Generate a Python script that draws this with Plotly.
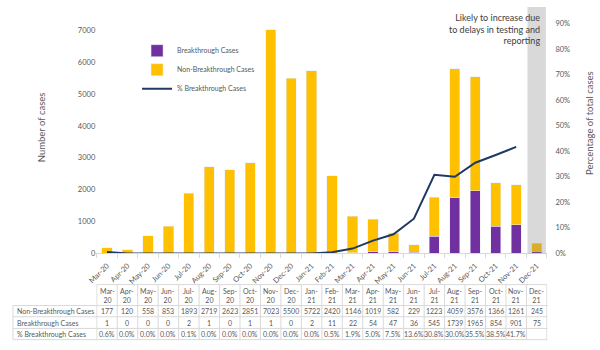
import plotly.graph_objects as go

months = ["Mar-20","Apr-20","May-20","Jun-20","Jul-20","Aug-20","Sep-20","Oct-20","Nov-20","Dec-20",
          "Jan-21","Feb-21","Mar-21","Apr-21","May-21","Jun-21","Jul-21","Aug-21","Sep-21","Oct-21","Nov-21","Dec-21"]
non_breakthrough = [177,120,558,853,1893,2719,2623,2851,7023,5500,5722,2420,1146,1019,582,229,1223,4059,3576,1366,1261,245]
breakthrough = [1,0,0,0,2,1,0,1,1,0,2,11,22,54,47,36,545,1739,1965,854,901,75]
pct_breakthrough = [0.6,0.0,0.0,0.0,0.1,0.0,0.0,0.0,0.0,0.0,0.0,0.5,1.9,5.0,7.5,13.6,30.8,30.0,35.5,38.5,41.7,None]
row_labels = ["Non-Breakthrough Cases", "Breakthrough Cases", "% Breakthrough Cases"]
left_ticks = [0,1000,2000,3000,4000,5000,6000,7000]
right_ticks = [0,10,20,30,40,50,60,70,80,90]

W, H = 600, 350
FONT = "Lato"
GRAY = "#595959"
GRID = "#D9D9D9"
PURPLE = "#7030A0"
GOLD = "#FFC000"
NAVY = "#1F3864"

px_left, px_right = 88.6, 546.6
px_top, px_bottom = 20, 256
xdom = [px_left / W, px_right / W]
ydom = [1 - px_bottom / H, 1 - px_top / H]
ymax = 7000 * (px_bottom - px_top) / (px_bottom - 27)


def py(p):
    return 1 - p / H


fig = go.Figure()
fig.add_trace(go.Bar(x=months, y=breakthrough, name="Breakthrough Cases", marker_color=PURPLE, yaxis="y"))
fig.add_trace(go.Bar(x=months, y=non_breakthrough, name="Non-Breakthrough Cases", marker_color=GOLD, yaxis="y"))
fig.add_trace(go.Scatter(x=months, y=[None if v is None else v / 100 for v in pct_breakthrough],
                         name="% Breakthrough Cases", mode="lines", line=dict(color=NAVY, width=2),
                         yaxis="y2"))

# ---- data table below the chart (columns follow the category axis) ----
ncol = len(months)
tab_label_left = 4
y_head_top, y_head_bot = 288, 309.5
row_lines = [309.5, 321, 333, 344.5]
row_centers = [315.2, 327, 338.7]
line_style = dict(color=GRID, width=1)

# horizontal lines
fig.add_shape(type="line", xref="x", yref="paper", x0=-0.5, x1=ncol - 0.5, y0=py(y_head_top), y1=py(y_head_top),
              line=line_style)
for yl in row_lines:
    fig.add_shape(type="line", xref="paper", yref="paper", x0=tab_label_left / W, x1=xdom[1],
                  y0=py(yl), y1=py(yl), line=line_style)
# vertical lines
for i in range(ncol + 1):
    fig.add_shape(type="line", xref="x", yref="paper", x0=i - 0.5, x1=i - 0.5,
                  y0=py(y_head_top), y1=py(row_lines[-1]), line=line_style)
fig.add_shape(type="line", xref="paper", yref="paper", x0=tab_label_left / W, x1=tab_label_left / W,
              y0=py(row_lines[0]), y1=py(row_lines[-1]), line=line_style)

tfont = dict(family=FONT, size=7, color=GRAY)
for i, m in enumerate(months):
    fig.add_annotation(text=m.replace("-", "-<br>"), xref="x", yref="paper", x=m, y=py((y_head_top + y_head_bot) / 2),
                       showarrow=False, font=tfont, xanchor="center", yanchor="middle", align="center")
    p = pct_breakthrough[i]
    vals = [str(non_breakthrough[i]), str(breakthrough[i]), "" if p is None else f"{p:.1f}%"]
    for v, yc in zip(vals, row_centers):
        if v:
            fig.add_annotation(text=v, xref="x", yref="paper", x=m, y=py(yc), showarrow=False, font=tfont,
                               xanchor="center", yanchor="middle")
for lab, yc in zip(row_labels, row_centers):
    fig.add_annotation(text=lab, xref="paper", yref="paper", x=6.5 / W, y=py(yc), showarrow=False, font=tfont,
                       xanchor="left", yanchor="middle")

# shaded incomplete month
fig.add_shape(type="rect", xref="x", yref="paper", x0=20.55, x1=21.45, y0=ydom[0], y1=py(3),
              fillcolor="rgba(128,128,128,0.3)", line=dict(width=0), layer="above")

fig.add_annotation(text="Likely to increase due<br>to delays in testing and<br>reporting",
                   xref="paper", yref="paper", x=541 / W, y=py(6), xanchor="right", yanchor="top",
                   align="right", showarrow=False, font=dict(family=FONT, size=9, color="#404040"))

# axis titles
fig.add_annotation(text="Number of cases", xref="paper", yref="paper", x=33 / W, y=py(127), textangle=-90,
                   showarrow=False, font=dict(family=FONT, size=9.5, color=GRAY), xanchor="center", yanchor="middle")
fig.add_annotation(text="Percentage of total cases", xref="paper", yref="paper", x=590 / W, y=py(122),
                   textangle=-90, showarrow=False, font=dict(family=FONT, size=9.5, color=GRAY),
                   xanchor="center", yanchor="middle")

fig.update_layout(
    width=W, height=H, margin=dict(l=0, r=0, t=0, b=0),
    paper_bgcolor="white", plot_bgcolor="white",
    barmode="stack", bargap=0.5,
    font=dict(family=FONT, size=7, color=GRAY),
    xaxis=dict(domain=xdom, type="category", tickangle=-45, tickson="boundaries", ticks="outside",
               ticklen=4, tickcolor=GRID, showline=True, linecolor=GRID, linewidth=1,
               showgrid=False, tickfont=dict(size=7.5, color=GRAY), anchor="y", ticklabelstandoff=4),
    yaxis=dict(domain=ydom, range=[0, ymax], tickvals=left_ticks, tickformat="d", showgrid=False,
               zeroline=False, showline=False, tickfont=dict(size=7.5, color=GRAY)),
    yaxis2=dict(overlaying="y", side="right", range=[0, 0.9], tickvals=[v / 100 for v in right_ticks],
                tickformat=".0%", showgrid=False, zeroline=False, showline=False, anchor="x",
                tickfont=dict(size=7.5, color=GRAY), ticklabelstandoff=7),
    legend=dict(x=130 / W, y=py(33), xanchor="left", yanchor="top", bgcolor="rgba(0,0,0,0)",
                font=dict(size=7, color=GRAY), traceorder="normal", itemwidth=30),
    showlegend=True,
)

fig.write_html("out.html")
